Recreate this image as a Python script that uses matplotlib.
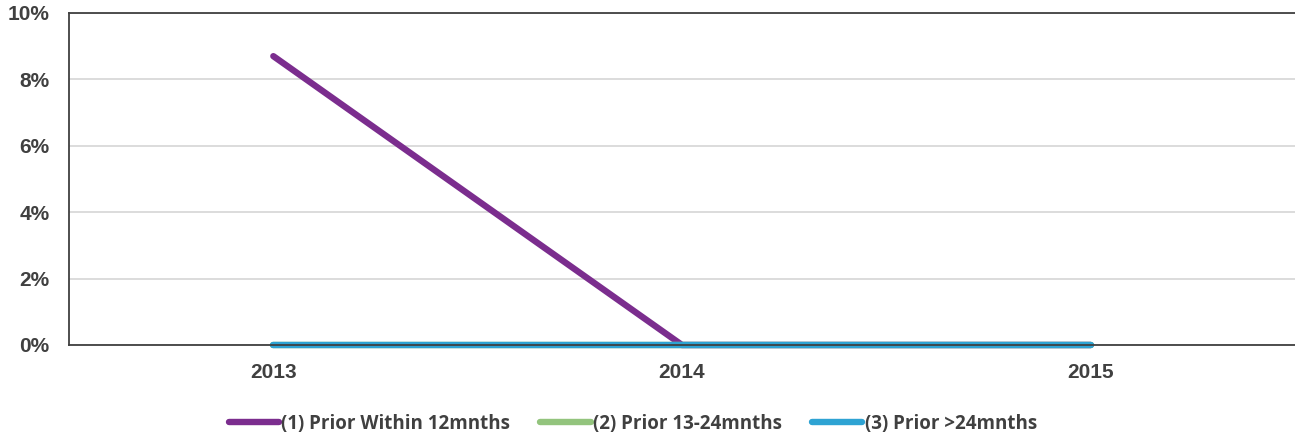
import matplotlib
matplotlib.use("Agg")
import matplotlib.pyplot as plt
from matplotlib.ticker import FuncFormatter

years = ["2013", "2014", "2015"]
within_12 = [8.7, 0.0, 0.0]
prior_13_24 = [0.0, 0.0, 0.0]
prior_over_24 = [0.0, 0.0, 0.0]
series_labels = ["(1) Prior Within 12mnths", "(2) Prior 13-24mnths", "(3) Prior >24mnths"]
y_ticks = [0, 2, 4, 6, 8, 10]

colors = ["#7B2D8E", "#93C47D", "#2EA3D3"]
text_color = "#404040"

fig = plt.figure(figsize=(12.95, 4.34), dpi=100)
ax = fig.add_axes([69 / 1295, 1 - 345 / 434, 1 - 69 / 1295, (345 - 13) / 434])

x = range(len(years))
lines = []
for vals, lab, col in zip([within_12, prior_13_24, prior_over_24], series_labels, colors):
    (ln,) = ax.plot(x, vals, color=col, lw=4.6, solid_capstyle="round", label=lab, clip_on=False)
    lines.append(ln)

ax.set_xlim(-0.5, 2.5)
ax.set_ylim(0, 10)
ax.set_xticks(list(x))
ax.set_xticklabels(years)
ax.set_yticks(y_ticks)
ax.yaxis.set_major_formatter(FuncFormatter(lambda v, _: f"{v:.0f}%"))
ax.grid(axis="y", color="#D9D9D9", lw=1.3)
ax.set_axisbelow(True)

for side in ["left", "top", "bottom"]:
    ax.spines[side].set_color(text_color)
    ax.spines[side].set_linewidth(1.3)
ax.spines["right"].set_visible(False)

ax.tick_params(axis="x", length=0, pad=13, labelcolor=text_color)
ax.tick_params(axis="y", length=0, pad=14, labelcolor=text_color)
for lbl in ax.get_xticklabels() + ax.get_yticklabels():
    lbl.set_fontfamily("Liberation Sans")
    lbl.set_fontweight("bold")
    lbl.set_fontsize(15)

leg = fig.legend(handles=lines, loc="center", bbox_to_anchor=(633 / 1295, 1 - 424 / 434),
                 ncol=3, frameon=False, handlelength=2.67, handletextpad=0.15, columnspacing=1.6,
                 prop={"family": "Open Sans", "weight": "bold", "size": 13.5})
for t in leg.get_texts():
    t.set_color(text_color)

fig.savefig("out.png", dpi=100)
